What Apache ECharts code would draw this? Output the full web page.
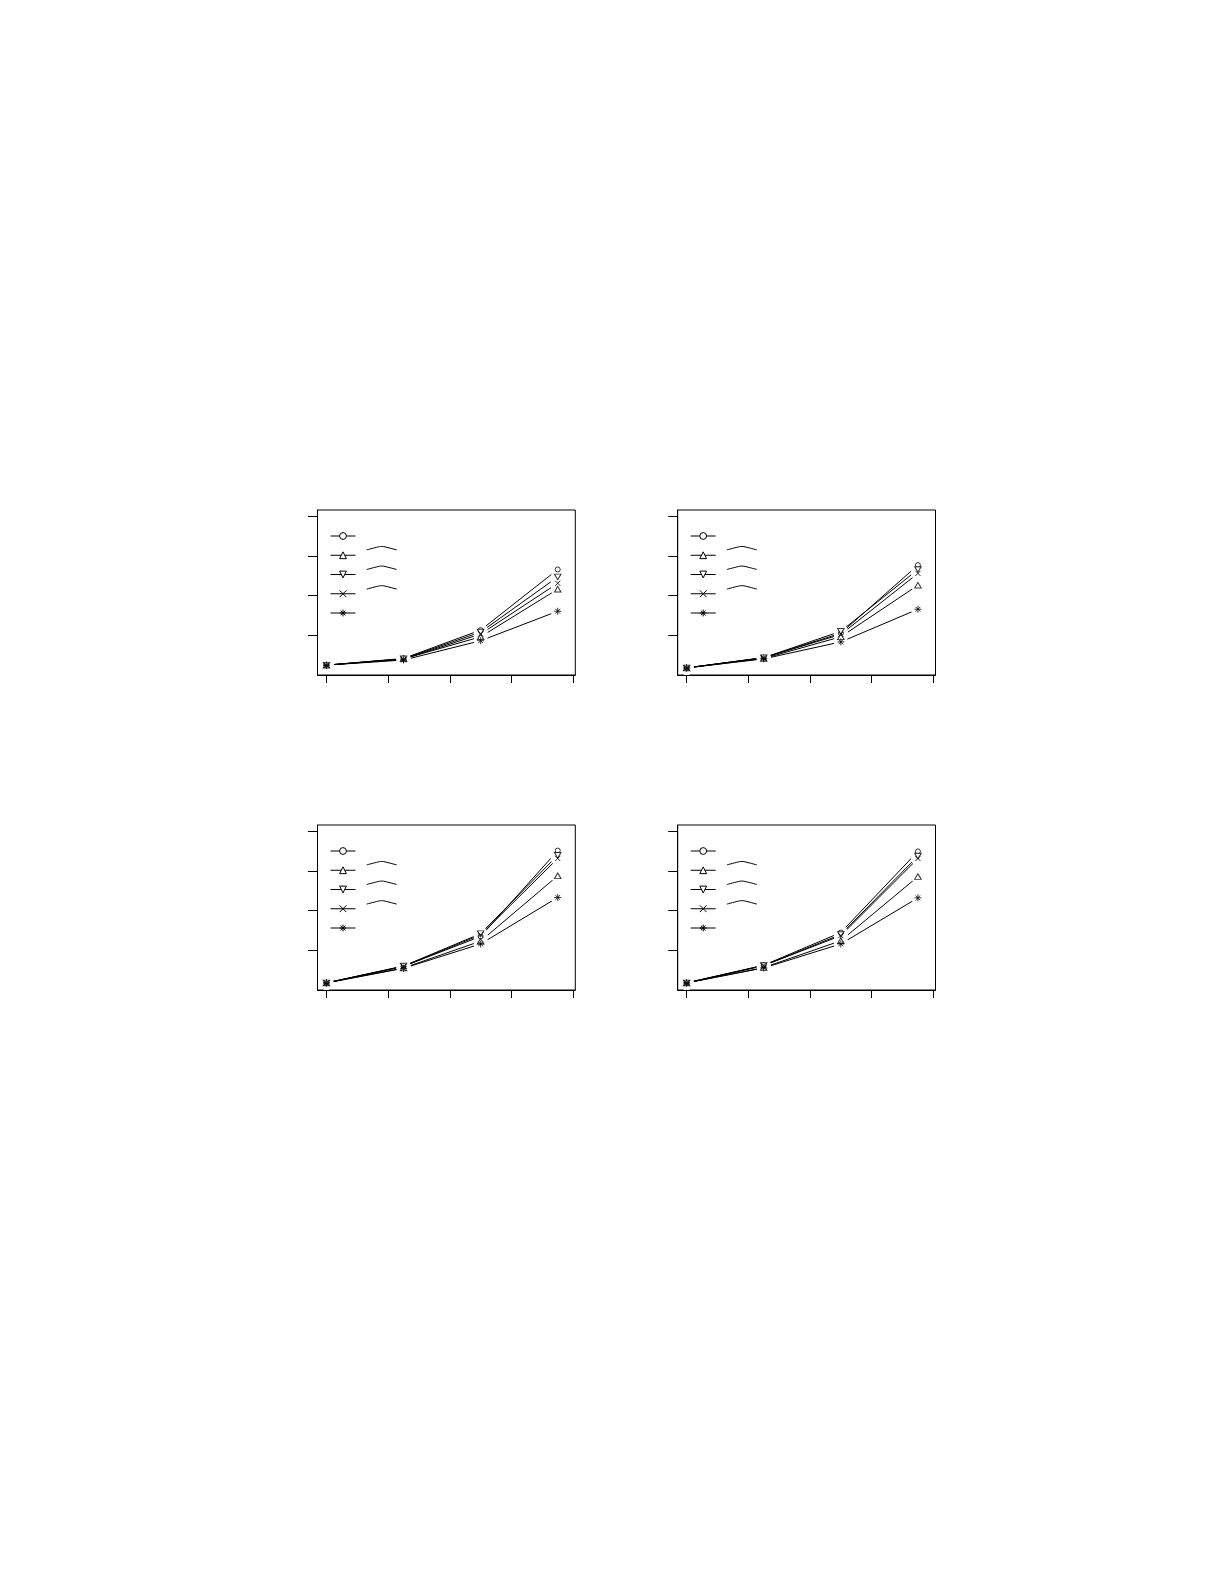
<!DOCTYPE html>
<html>
<head>
<meta charset="utf-8">
<script src="https://cdn.jsdelivr.net/npm/echarts@6/dist/echarts.min.js"></script>
<style>
html,body{margin:0;padding:0;background:#fff;}
#c{width:1225px;height:1585px;}
</style>
</head>
<body>
<div id="c"></div>
<script>
// ---- data ----
const xValues = [0, 25, 50, 75];
const xTicks = [0, 20, 40, 60, 80];
const yTicks = [100, 200, 300, 400];

// top-left panel
const p1Circle = [23, 40, 112, 266];
const p1Tri    = [23, 39, 95, 216];
const p1DTri   = [23, 39, 107, 247];
const p1Cross  = [23, 38, 102, 231];
const p1Star   = [23, 36, 85, 160];
// top-right panel
const p2Circle = [16, 42, 104, 277];
const p2Tri    = [16, 40, 95, 226];
const p2DTri   = [16, 42, 109, 266];
const p2Cross  = [16, 42, 101, 256];
const p2Star   = [16, 39, 82, 165];
// bottom-left panel
const p3Circle = [16, 58, 134, 352];
const p3Tri    = [16, 54, 122, 288];
const p3DTri   = [16, 59, 141, 340];
const p3Cross  = [16, 58, 138, 332];
const p3Star   = [16, 53, 115, 233];
// bottom-right panel
const p4Circle = [16, 61, 144, 350];
const p4Tri    = [16, 55, 123, 286];
const p4DTri   = [16, 60, 139, 338];
const p4Cross  = [16, 60, 136, 332];
const p4Star   = [16, 54, 115, 232];

const panelData = [
  [p1Circle, p1Tri, p1DTri, p1Cross, p1Star],
  [p2Circle, p2Tri, p2DTri, p2Cross, p2Star],
  [p3Circle, p3Tri, p3DTri, p3Cross, p3Star],
  [p4Circle, p4Tri, p4DTri, p4Cross, p4Star]
];

// ---- styling / layout ----
const symbols = [
  'circle',
  'path://M5,0 L10,8.66 L0,8.66 Z',
  'path://M0,0 L10,0 L5,8.66 Z',
  'path://M0,0 L10,10 M10,0 L0,10',
  'path://M5,0 L5,10 M0,5 L10,5 M1.6,1.6 L8.4,8.4 M8.4,1.6 L1.6,8.4'
];
const symbolSizes = [5, [6.5, 5.6], [6.5, 5.6], 5.2, 7];
const layout = [
  {left: 317.5, top: 510},
  {left: 677.7, top: 510},
  {left: 317.5, top: 825},
  {left: 677.7, top: 825}
];
const W = 257.8, H = 165;

const grids = [], xAxes = [], yAxes = [], series = [], legends = [], graphics = [];

layout.forEach((L, p) => {
  grids.push({left: L.left, top: L.top, width: W, height: H, show: true,
    borderColor: '#000', borderWidth: 1, backgroundColor: 'transparent', containLabel: false});
  xAxes.push({type: 'value', gridIndex: p, min: -2.9, max: 80.7,
    axisLine: {show: true, onZero: false, lineStyle: {color: '#000', width: 1}},
    axisTick: {show: true, length: 8, inside: false, customValues: xTicks, lineStyle: {color: '#000', width: 1}},
    axisLabel: {show: false, customValues: xTicks},
    splitLine: {show: false}});
  yAxes.push({type: 'value', gridIndex: p, min: -2, max: 417,
    axisLine: {show: true, onZero: false, lineStyle: {color: '#000', width: 1}},
    axisTick: {show: true, length: 9.5, inside: false, customValues: yTicks, lineStyle: {color: '#000', width: 1}},
    axisLabel: {show: false, customValues: yTicks},
    splitLine: {show: false}});

  const names = [];
  panelData[p].forEach((vals, s) => {
    const pts = xValues.map((x, i) => [x, vals[i]]);
    const nm = 'p' + (p + 1) + 's' + (s + 1);
    names.push(nm);
    // line only (its symbol is used by the legend icon)
    series.push({type: 'line', name: nm, xAxisIndex: p, yAxisIndex: p, data: pts,
      symbol: symbols[s], symbolSize: symbolSizes[s], showSymbol: false,
      lineStyle: {color: '#000', width: 1},
      itemStyle: {color: '#fff', borderColor: '#000', borderWidth: 1},
      emphasis: {disabled: true}, silent: true, z: 1, animation: false});
  });
  panelData[p].forEach((vals, s) => {
    const pts = xValues.map((x, i) => [x, vals[i]]);
    // white gap around points (type "b" look)
    series.push({type: 'scatter', name: 'p' + (p + 1) + 's' + (s + 1) + 'gap', xAxisIndex: p, yAxisIndex: p, data: pts,
      symbol: 'circle', symbolSize: 14, itemStyle: {color: '#ffffff', opacity: 1, borderWidth: 0},
      emphasis: {disabled: true}, silent: true, z: 3, animation: false});
  });
  panelData[p].forEach((vals, s) => {
    const pts = xValues.map((x, i) => [x, vals[i]]);
    series.push({type: 'scatter', name: 'p' + (p + 1) + 's' + (s + 1) + 'mk', xAxisIndex: p, yAxisIndex: p, data: pts,
      symbol: symbols[s], symbolSize: symbolSizes[s],
      itemStyle: {color: '#fff', borderColor: '#000', borderWidth: 1},
      emphasis: {disabled: true}, silent: true, z: 4, animation: false});
  });

  legends.push({data: names, orient: 'vertical', left: L.left + 12.5, top: L.top + 21.75,
    itemWidth: 25, itemHeight: 8.5, itemGap: 11.1, padding: 0, selectedMode: false,
    itemStyle: {color: '#fff', borderColor: '#000', borderWidth: 1},
    lineStyle: {color: '#000', width: 1},
    formatter: () => '', textStyle: {fontSize: 1, color: 'rgba(0,0,0,0)'},
    backgroundColor: 'transparent', borderWidth: 0});

  // hat accents left next to legend rows 2-4
  for (let r = 1; r <= 3; r++) {
    const cy = L.top + 26 + r * 19.6 - 9;
    const x0 = L.left + 49.2;
    graphics.push({type: 'polyline', silent: true, z: 10,
      shape: {points: [[x0, cy + 3.3], [x0 + 13, cy], [x0 + 17, cy], [x0 + 30, cy + 3.3]], smooth: 0.2},
      style: {stroke: '#000', lineWidth: 1, fill: null}});
  }
});

const chart = echarts.init(document.getElementById('c'), null, {renderer: 'canvas'});
chart.setOption({
  backgroundColor: '#fff',
  animation: false,
  grid: grids, xAxis: xAxes, yAxis: yAxes,
  legend: legends,
  series: series,
  graphic: graphics
});
</script>
</body>
</html>
